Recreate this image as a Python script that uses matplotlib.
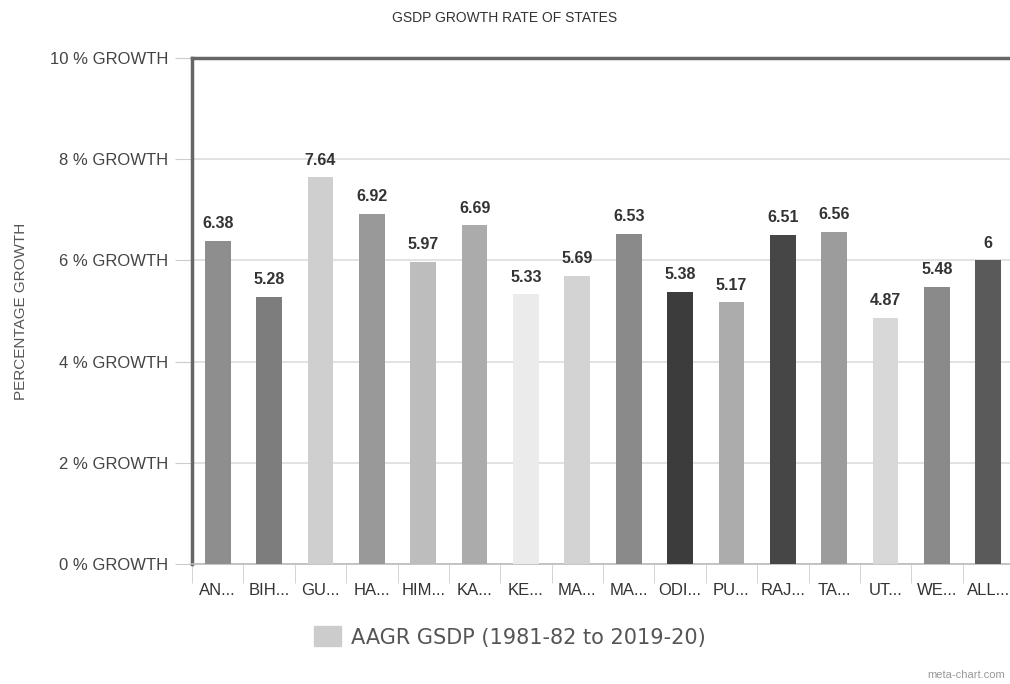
import numpy as np
from matplotlib import pyplot as plt
from matplotlib.patches import Patch

# data
states = ["AN...", "BIH...", "GU...", "HA...", "HIM...", "KA...", "KE...", "MA...",
          "MA...", "ODI...", "PU...", "RAJ...", "TA...", "UT...", "WE...", "ALL..."]
growth = [6.38, 5.28, 7.64, 6.92, 5.97, 6.69, 5.33, 5.69,
          6.53, 5.38, 5.17, 6.51, 6.56, 4.87, 5.48, 6]
value_labels = ["6.38", "5.28", "7.64", "6.92", "5.97", "6.69", "5.33", "5.69",
                "6.53", "5.38", "5.17", "6.51", "6.56", "4.87", "5.48", "6"]
bar_colors = ["#8e8e8e", "#7d7d7d", "#cfcfcf", "#999999", "#bdbdbd", "#ababab",
              "#ebebeb", "#d3d3d3", "#8a8a8a", "#3c3c3c", "#acacac", "#464646",
              "#9c9c9c", "#d8d8d8", "#8a8a8a", "#5a5a5a"]
y_ticks = [0, 2, 4, 6, 8, 10]
y_ticklabels = ["%d %% GROWTH" % v for v in y_ticks]
series_name = "AAGR GSDP (1981-82 to 2019-20)"

plt.rcParams["font.family"] = ["Liberation Sans", "DejaVu Sans"]

fig = plt.figure(figsize=(10.10, 6.84), dpi=100)
ax = fig.add_axes([192 / 1010, 1 - 564 / 684, 822 / 1010, (564 - 58) / 684])

x = np.arange(len(states))
ax.bar(x, growth, width=0.5, color=bar_colors, zorder=3)

for xi, v, lab in zip(x, growth, value_labels):
    ax.annotate(lab, (xi, v), xytext=(0, 7), textcoords="offset points",
                ha="center", va="bottom", fontsize=11.5, fontweight="bold",
                color="#333333")

ax.set_xlim(-0.5, len(states) - 0.5)
ax.set_ylim(0, 10)

ax.set_yticks(y_ticks)
ax.set_yticklabels(y_ticklabels, fontsize=12, color="#444444")
ax.tick_params(axis="y", length=12, color="#cccccc", pad=5)
ax.yaxis.grid(True, color="#dddddd", linewidth=1.2, zorder=0)

ax.set_xticks(x)
ax.set_xticklabels(states, fontsize=12, color="#333333")
ax.set_xticks(np.arange(len(states) + 1) - 0.5, minor=True)
ax.tick_params(axis="x", which="major", length=0, pad=14)
ax.tick_params(axis="x", which="minor", length=14, color="#cccccc")

ax.spines["left"].set_color("#666666")
ax.spines["left"].set_linewidth(2.5)
ax.spines["top"].set_color("#666666")
ax.spines["top"].set_linewidth(2.5)
ax.spines["bottom"].set_color("#bbbbbb")
ax.spines["bottom"].set_linewidth(1.2)
ax.spines["right"].set_visible(False)

ax.set_ylabel("PERCENTAGE GROWTH", fontsize=11, color="#555555")
ax.yaxis.set_label_coords(-0.2, 0.5)

fig.text(0.5, 1 - 18 / 684, "GSDP GROWTH RATE OF STATES", ha="center", va="center",
         fontsize=10, color="#333333")

ax.legend(handles=[Patch(color="#cccccc", label=series_name)], loc="center",
          bbox_to_anchor=(510 / 1010, 1 - 637 / 684), bbox_transform=fig.transFigure,
          frameon=False, handlelength=1.3, handleheight=1.1, handletextpad=0.5,
          labelcolor="#555555", prop={"family": "DejaVu Sans", "size": 15})

fig.text(1 - 5 / 1010, 1 - 675 / 684, "meta-chart.com", ha="right", va="center",
         fontsize=8, color="#999999")

fig.savefig("out.png", dpi=100)
